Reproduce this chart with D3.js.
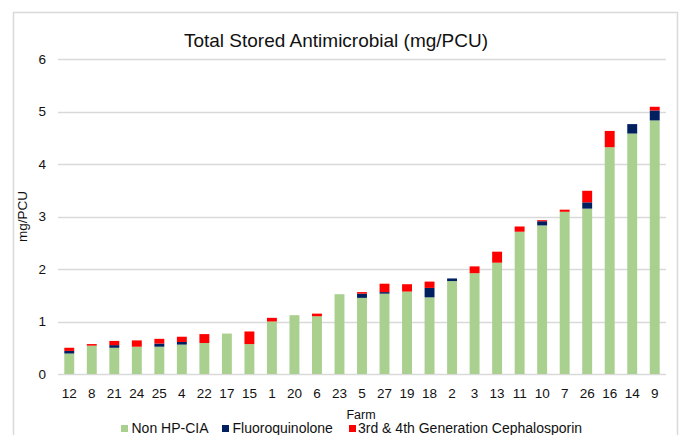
<!DOCTYPE html>
<html>
<head>
<meta charset="utf-8">
<script src="https://cdn.jsdelivr.net/npm/d3@7"></script>
<style>
  body { margin: 0; background: #fff; }
  svg text { font-family: "Liberation Sans", Arial, Helvetica, sans-serif; fill: #111; }
</style>
</head>
<body>
<div id="chart"></div>
<script>
// farms, in the order shown on the axis
var farms = ["12", "8", "21", "24", "25", "4", "22", "17", "15", "1", "20", "6", "23", "5",
    "27", "19", "18", "2", "3", "13", "11", "10", "7", "26", "16", "14", "9"];

// mg/PCU per class (stacked)
var nonHpCia = [0.39, 0.54, 0.50, 0.52, 0.52, 0.56, 0.59, 0.77, 0.57, 1.00, 1.12, 1.10, 1.52, 1.45,
    1.53, 1.57, 1.46, 1.77, 1.92, 2.12, 2.71, 2.83, 3.09, 3.15, 4.32, 4.58, 4.83];
var fluoroquinolone = [0.05, 0, 0.05, 0, 0.06, 0.05, 0, 0, 0, 0, 0, 0, 0, 0.08,
    0.03, 0, 0.18, 0.05, 0, 0, 0, 0.08, 0, 0.12, 0, 0.18, 0.19];
var cephalosporin = [0.06, 0.03, 0.08, 0.12, 0.09, 0.10, 0.17, 0, 0.24, 0.07, 0, 0.05, 0, 0.03,
    0.16, 0.14, 0.12, 0, 0.13, 0.21, 0.10, 0.02, 0.04, 0.22, 0.31, 0, 0.07];

var seriesNames = ["Non HP-CIA", "Fluoroquinolone", "3rd & 4th Generation Cephalosporin"];
var seriesColors = ["#a9d08e", "#002060", "#ff0000"];
var yTicks = [0, 1, 2, 3, 4, 5, 6];

var width = 681, height = 435;
var margin = {left: 58, right: 15, top: 59, bottom: 61};

var svg = d3.select("#chart").append("svg")
    .attr("width", width)
    .attr("height", height);

// outer frame
svg.append("rect")
    .attr("x", 13.5).attr("y", 12.5)
    .attr("width", 664).attr("height", 440)
    .attr("fill", "none")
    .attr("stroke", "#d9d9d9")
    .attr("stroke-width", 1.5);

var x = d3.scaleBand()
    .domain(farms)
    .range([margin.left, width - margin.right])
    .paddingInner(0.56)
    .paddingOuter(0.28);

var y = d3.scaleLinear()
    .domain([0, 6])
    .range([height - margin.bottom, margin.top]);

// gridlines
svg.append("g")
    .selectAll("line")
    .data(yTicks)
    .enter().append("line")
    .attr("x1", margin.left)
    .attr("x2", width - margin.right)
    .attr("y1", function (d) { return Math.round(y(d)) + 0.5; })
    .attr("y2", function (d) { return Math.round(y(d)) + 0.5; })
    .attr("stroke", "#d9d9d9")
    .attr("stroke-width", 1.3);

// y axis labels
var yAxis = d3.axisLeft(y).tickValues(yTicks).tickFormat(d3.format("d")).tickSize(0).tickPadding(12);
var gy = svg.append("g")
    .attr("transform", "translate(" + margin.left + ",0)")
    .call(yAxis);
gy.select(".domain").remove();
gy.selectAll("text").style("font-size", "13.5px").style("font-family", null);

// stacked bars
var table = farms.map(function (f, i) {
    return {farm: f, a: nonHpCia[i], b: fluoroquinolone[i], c: cephalosporin[i]};
});
var stack = d3.stack().keys(["a", "b", "c"]);
var layers = stack(table);

svg.append("g")
    .selectAll("g")
    .data(layers)
    .enter().append("g")
    .attr("fill", function (d, i) { return seriesColors[i]; })
    .selectAll("rect")
    .data(function (d) { return d; })
    .enter().append("rect")
    .attr("x", function (d) { return x(d.data.farm); })
    .attr("width", x.bandwidth())
    .attr("y", function (d) { return y(d[1]); })
    .attr("height", function (d) { return Math.max(0, y(d[0]) - y(d[1])); });

// x axis labels
var xAxis = d3.axisBottom(x).tickSize(0).tickPadding(14);
var gx = svg.append("g")
    .attr("transform", "translate(0," + (height - margin.bottom) + ")")
    .call(xAxis);
gx.select(".domain").remove();
gx.selectAll("text").style("font-size", "13.5px").style("font-family", null);

// title
svg.append("text")
    .attr("x", 336)
    .attr("y", 47)
    .attr("text-anchor", "middle")
    .style("font-size", "19px")
    .text("Total Stored Antimicrobial (mg/PCU)");

// axis titles
svg.append("text")
    .attr("x", 361)
    .attr("y", 419)
    .attr("text-anchor", "middle")
    .style("font-size", "12.5px")
    .text("Farm");

svg.append("text")
    .attr("transform", "translate(27," + y(3) + ") rotate(-90)")
    .attr("text-anchor", "middle")
    .style("font-size", "13.5px")
    .text("mg/PCU");

// legend
var legendX = [121, 222, 349];
var legend = svg.append("g")
    .selectAll("g")
    .data(seriesNames)
    .enter().append("g")
    .attr("transform", function (d, i) { return "translate(" + legendX[i] + ",433)"; });
legend.append("rect")
    .attr("x", 0).attr("y", -8)
    .attr("width", 7).attr("height", 7)
    .attr("fill", function (d, i) { return seriesColors[i]; });
legend.append("text")
    .attr("x", function (d, i) { return i === 2 ? 9 : 10.5; })
    .style("font-size", "14px")
    .text(function (d) { return d; });
</script>
</body>
</html>
